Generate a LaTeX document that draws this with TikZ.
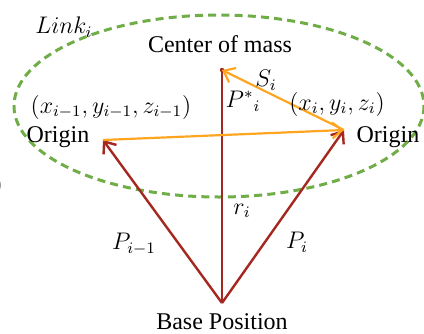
\documentclass[tikz,border=0pt]{standalone}
\usepackage{fontspec}
\setmainfont{Liberation Serif}
\usetikzlibrary{arrows.meta,positioning,calc}

\definecolor{linkgreen}{RGB}{112,173,71}
\definecolor{vecred}{RGB}{165,40,32}
\definecolor{vecorange}{RGB}{255,165,32}

\begin{document}
\begin{tikzpicture}[
  x=0.5pt, y=-0.5pt,
  font=\fontsize{12}{14}\selectfont,
  >={Straight Barb[length=5pt,width=8pt]},
  linkbox/.style={draw=linkgreen, line width=1.5pt, dash pattern=on 4pt off 2.6pt},
  redvec/.style={->, draw=vecred, line width=1.2pt},
  orangevec/.style={->, draw=vecorange, line width=1.1pt},
  lbl/.style={inner sep=1pt},
]
\useasboundingbox (0,0) rectangle (424,333);

% link outline
\draw[linkbox] (219,106) ellipse [x radius=205, y radius=91];

% main points
\coordinate (base) at (222,303);
\coordinate (com)  at (222,70);
\coordinate (orgL) at (103,140);
\coordinate (orgR) at (344,130);

% position vectors from the base
\draw[redvec] (base) -- (orgL);
\draw[redvec] (base) -- (orgR);
\draw[draw=vecred, line width=1.2pt] (base) -- (com);
\fill[vecred] (com) circle (2.2);

% link vectors
\draw[orangevec] (orgL) -- (orgR);
\draw[orangevec] (orgR) -- (com);

% texts
\node[lbl] (linkname) at (64,27)  {$Link_i$};
\node[lbl] (comtxt)   at (220,44) {Center of mass};
\node[lbl] (coordL)   at (111,107) {$(x_{i-1},y_{i-1},z_{i-1})$};
\node[lbl] (originL)  at (58,137) {Origin};
\node[lbl] (coordR)   at (337,104) {$(x_i,y_i,z_i)$};
\node[lbl] (originR)  at (388,137) {Origin};
\node[lbl] (si)       at (266,80) {$S_i$};
\node[lbl] (pstar)    at (243,101) {$P^*{}_i$};
\node[lbl] (ri)       at (242,211) {$r_i$};
\node[lbl] (pim)      at (134,244) {$P_{i-1}$};
\node[lbl] (pi)       at (297,242) {$P_i$};
\node[lbl] (basetxt)  at (222,322) {Base Position};
\node[lbl, anchor=east] (cutparen) at (4,186) {)};

\end{tikzpicture}
\end{document}
